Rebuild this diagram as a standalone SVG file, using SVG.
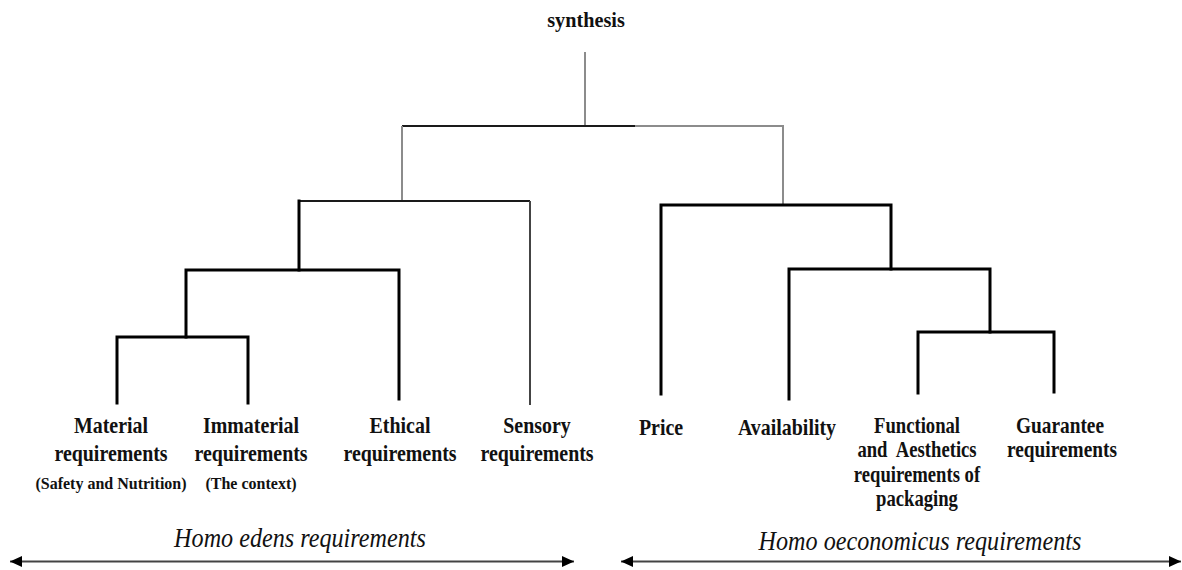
<svg xmlns="http://www.w3.org/2000/svg" width="1182" height="570" viewBox="0 0 1182 570">
  <style>
    .lbl { font-family: "Liberation Serif", "Times New Roman", serif; font-weight: bold; fill: #111; text-anchor: middle; }
    .big { font-size: 24px; }
    .mid { font-size: 22.5px; }
    .small { font-size: 16px; }
    .axis { font-family: "Liberation Serif", "Times New Roman", serif; font-style: italic; font-size: 27px; fill: #111; text-anchor: middle; }
    .gray { fill: none; stroke: #8c8c8c; stroke-width: 2; }
    .thin { fill: none; stroke: #1a1a1a; stroke-width: 2; }
    .thin2 { fill: none; stroke: #444; stroke-width: 2; }
    .thick { fill: none; stroke: #000; stroke-width: 3; stroke-linejoin: miter; stroke-linecap: square; }
    .scale { fill: none; stroke: #444; stroke-width: 2; }
  </style>
  <defs>
    <marker id="head" markerUnits="userSpaceOnUse" markerWidth="13" markerHeight="13" viewBox="0 0 13 13" refX="12" refY="6.5" orient="auto-start-reverse">
      <path d="M0,1 L12,6.5 L0,12 Z" fill="#000"/>
    </marker>
  </defs>

  <rect width="1182" height="570" fill="#fff"/>

  <!-- tree connectors -->
  <g id="connectors">
    <path class="gray" d="M585,52 V126"/>
    <path class="thin" d="M402,126 H635"/>
    <path class="gray" d="M635,126 H783 V205"/>
    <path class="gray" d="M402,126 V201"/>
    <path class="thin" d="M299,201 H530"/>
    <path class="thin2" d="M530,201 V405"/>
    <path class="thick" d="M299,201 V270"/>
    <path class="thick" d="M186,337 V270 H399 V399"/>
    <path class="thick" d="M117,403 V337 H248 V403"/>
    <path class="thick" d="M661,394 V205 H891 V269"/>
    <path class="thick" d="M789,399 V269 H990 V332"/>
    <path class="thick" d="M918,393 V332 H1054 V392"/>
  </g>

  <!-- root -->
  <g id="synthesis">
    <text class="lbl" font-size="22" transform="translate(586,27) scale(0.92,1)">synthesis</text>
  </g>

  <!-- Homo edens leaves -->
  <g id="material">
    <text class="lbl big" transform="translate(111,433) scale(0.83,1)">Material</text>
    <text class="lbl big" transform="translate(111,461) scale(0.83,1)">requirements</text>
    <text class="lbl small" transform="translate(111,489)">(Safety and Nutrition)</text>
  </g>
  <g id="immaterial">
    <text class="lbl big" transform="translate(251,433) scale(0.83,1)">Immaterial</text>
    <text class="lbl big" transform="translate(251,461) scale(0.83,1)">requirements</text>
    <text class="lbl small" transform="translate(251,489)">(The context)</text>
  </g>
  <g id="ethical">
    <text class="lbl big" transform="translate(400,433) scale(0.83,1)">Ethical</text>
    <text class="lbl big" transform="translate(400,461) scale(0.83,1)">requirements</text>
  </g>
  <g id="sensory">
    <text class="lbl big" transform="translate(537,433) scale(0.83,1)">Sensory</text>
    <text class="lbl big" transform="translate(537,461) scale(0.83,1)">requirements</text>
  </g>

  <!-- Homo oeconomicus leaves -->
  <g id="price">
    <text class="lbl big" transform="translate(661,435) scale(0.83,1)">Price</text>
  </g>
  <g id="availability">
    <text class="lbl big" transform="translate(787,435) scale(0.83,1)">Availability</text>
  </g>
  <g id="functional">
    <text class="lbl mid" transform="translate(917,433) scale(0.83,1)">Functional</text>
    <text class="lbl mid" transform="translate(917,457) scale(0.83,1)">and&#160; Aesthetics</text>
    <text class="lbl mid" transform="translate(917,482) scale(0.83,1)">requirements of</text>
    <text class="lbl mid" transform="translate(917,506) scale(0.83,1)">packaging</text>
  </g>
  <g id="guarantee">
    <text class="lbl mid" transform="translate(1060,433) scale(0.86,1)">Guarantee</text>
    <text class="lbl mid" transform="translate(1062,457) scale(0.86,1)">requirements</text>
  </g>

  <!-- requirement scales -->
  <g id="homo-edens">
    <line class="scale" x1="10" y1="561.5" x2="574" y2="561.5" marker-start="url(#head)" marker-end="url(#head)"/>
    <text class="axis" transform="translate(300,547) scale(0.895,1)">Homo edens requirements</text>
  </g>
  <g id="homo-oeconomicus">
    <line class="scale" x1="621" y1="561.5" x2="1181" y2="561.5" marker-start="url(#head)" marker-end="url(#head)"/>
    <text class="axis" transform="translate(920,550) scale(0.895,1)">Homo oeconomicus requirements</text>
  </g>
</svg>
